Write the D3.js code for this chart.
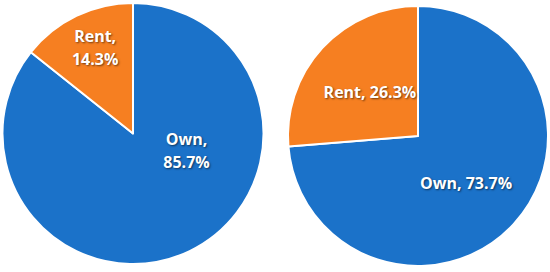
<!DOCTYPE html>
<html lang="en">
<head>
<meta charset="UTF-8">
<script src="https://d3js.org/d3.v7.min.js"></script>
<title>Own vs Rent</title>
<style>
  body { margin: 0; background: #fff; }
  text { font-family: "Open Sans", sans-serif; font-weight: 700; fill: #fff;
         text-shadow: 1px 1px 2px rgba(0,0,0,0.55); }
</style>
</head>
<body>
<div id="viz"></div>
<script>
  // data
  const categories = ["Own", "Rent"]
  const leftValues = [85.7, 14.3]
  const rightValues = [73.7, 26.3]
  const colors = ["#1b72c9", "#f67f21"]

  const width = 550
  const height = 272

  // pie layout: centre, radius, label offsets (fraction of radius) and label wrapping
  const pies = [
    {values: leftValues, cx: 133, cy: 133.5, r: 130.5,
     labels: [[0.41, 0.13], [-0.29, -0.66]], wrap: true},
    {values: rightValues, cx: 418, cy: 136, r: 130,
     labels: [[0.37, 0.36], [-0.37, -0.34]], wrap: false}
  ]

  const svg = d3.select("#viz")
    .append("svg")
    .attr("width", width)
    .attr("height", height)

  const pie = d3.pie().sort(null).value(d => d)

  pies.forEach(p => {
    const g = svg.append("g")
      .attr("transform", `translate(${p.cx},${p.cy})`)

    const arc = d3.arc().innerRadius(0).outerRadius(p.r)

    g.selectAll("path")
      .data(pie(p.values))
      .enter()
      .append("path")
      .attr("d", arc)
      .attr("fill", (d, i) => colors[i])
      .attr("stroke", "#fff")
      .attr("stroke-width", 2)
      .attr("stroke-linejoin", "round")

    const lbl = g.selectAll(".lbl")
      .data(p.values)
      .enter()
      .append("text")
      .attr("class", "lbl")
      .attr("text-anchor", "middle")
      .attr("font-size", 16)
      .attr("transform", (d, i) => `translate(${p.labels[i][0] * p.r},${p.labels[i][1] * p.r})`)

    if (p.wrap) {
      lbl.append("tspan").attr("x", 0).attr("y", -5.5)
        .text((d, i) => categories[i] + ",")
      lbl.append("tspan").attr("x", 0).attr("y", 17.5)
        .text(d => d.toFixed(1) + "%")
    } else {
      lbl.attr("y", 6)
        .text((d, i) => categories[i] + ", " + d.toFixed(1) + "%")
    }
  })
</script>
</body>
</html>
